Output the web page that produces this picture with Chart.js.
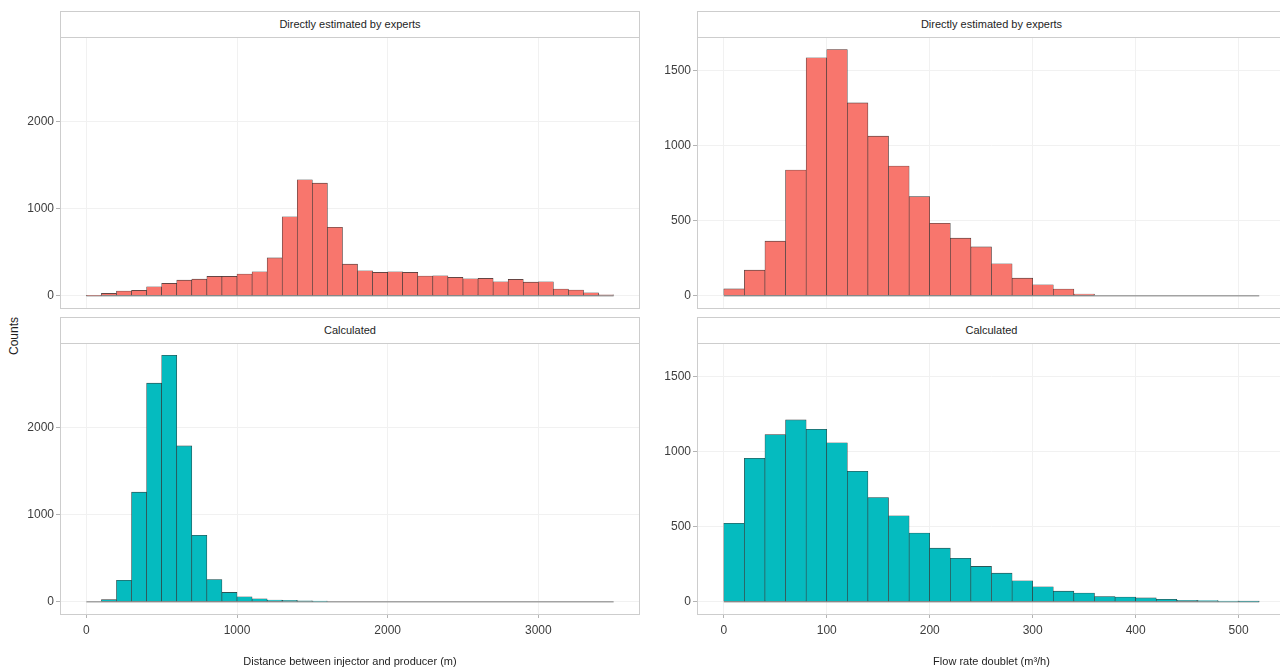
<!DOCTYPE html>
<html>
<head>
<meta charset="utf-8">
<title>Histograms of doublet distance and flow rate</title>
<script src="https://cdn.jsdelivr.net/npm/chart.js@4.4.1/dist/chart.umd.min.js"></script>
<style>
  html, body { margin: 0; padding: 0; background: #fff; overflow: hidden; }
  body { width: 1280px; height: 672px; position: relative; font-family: "Liberation Sans", Arial, sans-serif; }
  .wrap { position: absolute; }
  .frame { position: absolute; box-sizing: border-box; border: 1px solid #cdcdcd; pointer-events: none; }
  .strip { position: absolute; box-sizing: border-box; border: 1px solid #cdcdcd; background: #fff;
           font-size: 11px; color: #1e1e1e; text-align: center; }
  #ylab { position: absolute; left: 14px; top: 336px; transform: translate(-50%, -50%) rotate(-90deg);
          font-size: 12px; color: #1e1e1e; white-space: nowrap; }
</style>
</head>
<body>
<div id="ylab">Counts</div>
<script>
// ---- data: histogram bins (centres) and counts per bin ----
const DIST_BINS = [50, 150, 250, 350, 450, 550, 650, 750, 850, 950, 1050, 1150, 1250, 1350, 1450, 1550, 1650,
  1750, 1850, 1950, 2050, 2150, 2250, 2350, 2450, 2550, 2650, 2750, 2850, 2950, 3050, 3150, 3250, 3350, 3450];
const DIST_EXPERT = [4, 27, 53, 61, 103, 141, 179, 190, 221, 221, 248, 274, 434, 905, 1330, 1291, 785, 362,
  286, 267, 274, 267, 225, 229, 210, 194, 198, 160, 187, 156, 160, 76, 65, 34, 11];
const DIST_CALC = [0, 23, 245, 1257, 2507, 2827, 1787, 762, 255, 107, 57, 34, 19, 15, 11, 8, 0, 0,
  0, 0, 0, 0, 0, 0, 0, 0, 0, 0, 0, 0, 0, 0, 0, 0, 0];

const FLOW_BINS = [10, 30, 50, 70, 90, 110, 130, 150, 170, 190, 210, 230, 250, 270, 290, 310, 330, 350,
  370, 390, 410, 430, 450, 470, 490, 510];
const FLOW_EXPERT = [45, 170, 363, 836, 1584, 1639, 1283, 1062, 863, 659, 482, 383, 325, 212, 117, 73, 44, 10,
  0, 0, 0, 0, 0, 0, 0, 0];
const FLOW_CALC = [522, 955, 1112, 1210, 1148, 1058, 868, 693, 572, 457, 356, 289, 235, 190, 139, 99, 70, 58,
  34, 31, 25, 16, 9, 7, 4, 2];

const DIST_TICKS = [0, 1000, 2000, 3000];
const FLOW_TICKS = [0, 100, 200, 300, 400, 500];
const DIST_COUNT_TICKS = [0, 1000, 2000];
const FLOW_COUNT_TICKS = [0, 500, 1000, 1500];

const PANEL_TITLES = ['Directly estimated by experts', 'Calculated'];
const X_TITLES = ['Distance between injector and producer (m)', 'Flow rate doublet (m\u00B3/h)'];

// ---- styling ----
const FONT = '"Liberation Sans", Arial, sans-serif';
const RED = '#F8766D';
const TEAL = '#05BBBF';
const OUTLINE = '#363636';

// draws the outline of empty bins along the zero line
const zeroLine = {
  id: 'zeroLine',
  beforeDatasetsDraw(chart, args, opts) {
    const xs = chart.scales.x, ys = chart.scales.y, ctx = chart.ctx;
    const y = ys.getPixelForValue(0);
    ctx.save();
    ctx.strokeStyle = opts.color;
    ctx.lineWidth = opts.width;
    ctx.beginPath();
    ctx.moveTo(xs.getPixelForValue(opts.from), y);
    ctx.lineTo(xs.getPixelForValue(opts.to), y);
    ctx.stroke();
    ctx.restore();
  }
};

function panel(cfg) {
  const { x0, plotL, plotR, stripT, plotT, plotB, showX } = cfg;
  const wrap = document.createElement('div');
  wrap.className = 'wrap';
  const extra = showX ? 58 : 0;
  Object.assign(wrap.style, { left: x0 + 'px', top: plotT + 'px', width: (plotR - x0) + 'px', height: (plotB - plotT + extra) + 'px' });
  const canvas = document.createElement('canvas');
  wrap.appendChild(canvas);
  document.body.appendChild(wrap);

  const frame = document.createElement('div');
  frame.className = 'frame';
  Object.assign(frame.style, { left: plotL + 'px', top: stripT + 'px', width: (plotR - plotL) + 'px', height: (plotB - stripT + 1) + 'px' });
  document.body.appendChild(frame);

  const strip = document.createElement('div');
  strip.className = 'strip';
  strip.textContent = cfg.title;
  Object.assign(strip.style, { left: plotL + 'px', top: stripT + 'px', width: (plotR - plotL) + 'px',
    height: (plotT - stripT + 1) + 'px', lineHeight: (plotT - stripT - 1) + 'px' });
  document.body.appendChild(strip);

  const half = (cfg.bins[1] - cfg.bins[0]) / 2;
  const tickFont = { family: FONT, size: 12 };
  const fmt = v => String(v);

  new Chart(canvas, {
    type: 'bar',
    data: {
      datasets: [{
        data: cfg.bins.map((b, i) => ({ x: b, y: cfg.values[i] })),
        backgroundColor: cfg.color,
        borderColor: OUTLINE,
        borderWidth: 0.6,
        borderSkipped: false,
        barPercentage: 1,
        categoryPercentage: 1
      }]
    },
    options: {
      responsive: true,
      maintainAspectRatio: false,
      animation: false,
      layout: { padding: 0 },
      plugins: {
        legend: { display: false },
        zeroLine: { from: cfg.bins[0] - half, to: cfg.bins[cfg.bins.length - 1] + half, color: '#a3a3a3', width: 1.4 }
      },
      scales: {
        x: {
          type: 'linear', offset: false, min: cfg.xLim[0], max: cfg.xLim[1],
          afterBuildTicks: s => { s.ticks = cfg.xTicks.map(v => ({ value: v })); },
          afterFit: s => { s.height = extra; s.paddingLeft = 0; s.paddingRight = 0; },
          grid: { color: '#f1f1f1', drawTicks: showX, tickLength: 4, tickColor: '#b3b3b3', offset: false },
          border: { display: false },
          ticks: { display: showX, font: tickFont, color: '#3d3d3d', padding: 5, maxRotation: 0, autoSkip: false, callback: fmt },
          title: { display: showX, text: cfg.xTitle, font: { family: FONT, size: 11 }, color: '#1e1e1e', padding: { top: 0, bottom: 3 } }
        },
        y: {
          type: 'linear', min: cfg.yLim[0], max: cfg.yLim[1],
          afterBuildTicks: s => { s.ticks = cfg.yTicks.map(v => ({ value: v })); },
          afterFit: s => { s.width = plotL - x0; s.paddingTop = 0; s.paddingBottom = 0; },
          grid: { color: '#f1f1f1', drawTicks: true, tickLength: 4, tickColor: '#b3b3b3' },
          border: { display: false },
          ticks: { font: tickFont, color: '#3d3d3d', padding: 2, callback: fmt }
        }
      }
    },
    plugins: [zeroLine]
  });
}

const LEFT = { x0: 0, plotL: 60, plotR: 640, bins: DIST_BINS, xTicks: DIST_TICKS, xLim: [-175, 3675],
  yTicks: DIST_COUNT_TICKS, yLim: [-141, 2968], xTitle: X_TITLES[0] };
const RIGHT = { x0: 640, plotL: 697, plotR: 1286, bins: FLOW_BINS, xTicks: FLOW_TICKS, xLim: [-26, 546],
  yTicks: FLOW_COUNT_TICKS, yLim: [-82, 1722], xTitle: X_TITLES[1] };
const TOP = { stripT: 11, plotT: 37, plotB: 308, showX: false };
const BOTTOM = { stripT: 317, plotT: 343, plotB: 614, showX: true };

panel({ ...LEFT, ...TOP, title: PANEL_TITLES[0], values: DIST_EXPERT, color: RED });
panel({ ...LEFT, ...BOTTOM, title: PANEL_TITLES[1], values: DIST_CALC, color: TEAL });
panel({ ...RIGHT, ...TOP, title: PANEL_TITLES[0], values: FLOW_EXPERT, color: RED });
panel({ ...RIGHT, ...BOTTOM, title: PANEL_TITLES[1], values: FLOW_CALC, color: TEAL });
</script>
</body>
</html>
